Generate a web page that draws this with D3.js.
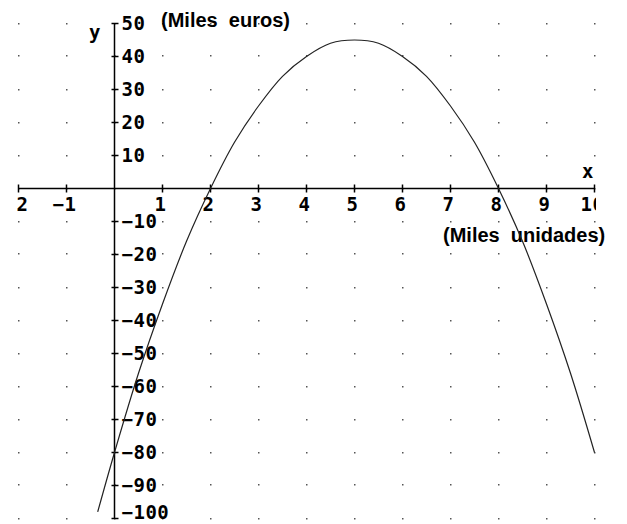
<!DOCTYPE html>
<html lang="en">
  <head>
    <meta charset="UTF-8" />
    <title>Beneficio</title>
    <style>
      body { margin: 0; background: #fff; }
      .tick-lbl { font-family: "DejaVu Sans Mono", monospace; font-weight: bold; font-size: 19px; letter-spacing: 0.5px; fill: #000; }
      .unit-lbl { font-family: "Liberation Sans", Arial, sans-serif; font-weight: bold; font-size: 20px; fill: #000; }
    </style>
  </head>
  <body>
    <script src="https://cdn.jsdelivr.net/npm/d3@7"></script>
    <script>

      // values
      var xTicks = [-2, -1, 1, 2, 3, 4, 5, 6, 7, 8, 9, 10];
      var yTicks = [50, 40, 30, 20, 10, -10, -20, -30, -40, -50, -60, -70, -80, -90, -100];
      var curveX = [-0.35, 0, 0.5, 1, 1.5, 2, 2.5, 3, 3.5, 4, 4.5, 5, 5.5, 6, 6.5, 7, 7.5, 8, 8.5, 9, 9.5, 10];
      var curveY = [-98, -80, -56, -35, -16, 0, 14, 25, 34, 40, 44, 45, 44, 40, 34, 25, 14, 0, -16, -35, -56, -80];

      var w = 627, h = 524;

      var svg = d3.select("body").append("svg")
                  .attr("width", w)
                  .attr("height", h);

      var xScale = d3.scaleLinear().domain([0, 10]).range([114.5, 594.5]);
      var yScale = d3.scaleLinear().domain([0, 50]).range([188.5, 23.5]);

      svg.append("clipPath").attr("id", "clip")
         .append("rect").attr("x", 17).attr("y", 0).attr("width", 579).attr("height", h);

      // dotted grid
      var dots = [];
      d3.range(-2, 11).forEach(function(gx) {
        d3.range(-100, 51, 10).forEach(function(gy) { dots.push([gx, gy]); });
      });
      svg.selectAll(".dot")
         .data(dots)
         .enter()
         .append("rect")
         .attr("class", "dot")
         .attr("x", function(d) { return Math.round(xScale(d[0])) - 1; })
         .attr("y", function(d) { return Math.round(yScale(d[1])) - 1; })
         .attr("width", 1.5)
         .attr("height", 1.5)
         .attr("fill", "#555");

      // axes
      svg.append("line")
         .attr("x1", xScale(-2)).attr("x2", xScale(10))
         .attr("y1", yScale(0)).attr("y2", yScale(0))
         .attr("stroke", "#000").attr("stroke-width", 1.5);
      svg.append("line")
         .attr("x1", xScale(0)).attr("x2", xScale(0))
         .attr("y1", yScale(50)).attr("y2", yScale(-100))
         .attr("stroke", "#000").attr("stroke-width", 1.5);

      svg.selectAll(".xtick")
         .data(xTicks)
         .enter()
         .append("line")
         .attr("x1", function(d) { return xScale(d); })
         .attr("x2", function(d) { return xScale(d); })
         .attr("y1", yScale(0) - 4).attr("y2", yScale(0) + 4)
         .attr("stroke", "#000").attr("stroke-width", 1.5);
      svg.selectAll(".ytick")
         .data(yTicks)
         .enter()
         .append("line")
         .attr("x1", xScale(0) - 3).attr("x2", xScale(0) + 4)
         .attr("y1", function(d) { return yScale(d); })
         .attr("y2", function(d) { return yScale(d); })
         .attr("stroke", "#000").attr("stroke-width", 1.5);

      var lbl = svg.append("g").attr("clip-path", "url(#clip)");
      lbl.selectAll(".xl")
         .data(xTicks)
         .enter()
         .append("text")
         .attr("class", "tick-lbl")
         .attr("text-anchor", function(d) { return d < 0 ? "end" : "middle"; })
         .attr("x", function(d) { return d < 0 ? xScale(d) + 10 : xScale(d) - 2; })
         .attr("y", 211)
         .text(function(d) { return d < 0 ? "\u2212" + (-d) : d; });

      // keep the bottom label inside the frame
      svg.selectAll(".yl")
         .data(yTicks)
         .enter()
         .append("text")
         .attr("class", "tick-lbl")
         .attr("x", xScale(0) + 7)
         .attr("y", function(d) { return Math.min(yScale(d) + 6, 519); })
         .text(function(d) { return d < 0 ? "\u2212" + (-d) : d; });

      svg.append("text").attr("class", "tick-lbl")
         .attr("x", 89).attr("y", 39).text("y");
      svg.append("text").attr("class", "tick-lbl")
         .attr("x", 582).attr("y", 178).text("x");

      svg.append("text").attr("class", "unit-lbl")
         .attr("x", 161).attr("y", 27).attr("xml:space", "preserve").text("(Miles  euros)");
      svg.append("text").attr("class", "unit-lbl")
         .attr("x", 443).attr("y", 242).attr("xml:space", "preserve").text("(Miles  unidades)");

      // profit curve
      var pts = curveX.map(function(x, i) { return [x, curveY[i]]; });
      var line = d3.line()
                   .x(function(d) { return xScale(d[0]); })
                   .y(function(d) { return yScale(d[1]); })
                   .curve(d3.curveCatmullRom);
      svg.append("path")
         .attr("d", line(pts))
         .attr("fill", "none")
         .attr("stroke", "#222")
         .attr("stroke-width", 1.2);

    </script>
  </body>
</html>
